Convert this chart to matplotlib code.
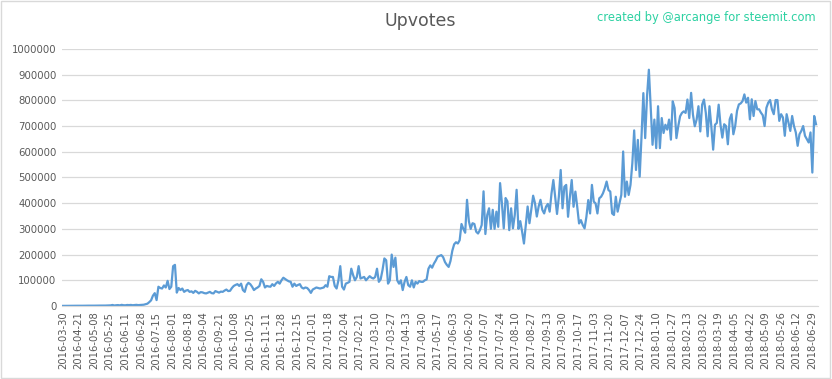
import numpy as np
import matplotlib
matplotlib.use("Agg")
from matplotlib import pyplot as plt
from matplotlib.patches import Rectangle

# daily upvotes, read every 2nd day off the chart (2016-03-30 .. 2018-07-05)
upvotes = [
    500, 600, 700, 600, 800, 700, 900, 800, 1000, 900, 1100, 1000, 1200,
    1100, 1300, 1200, 1400, 1300, 1500, 1400, 1600, 1500, 1800, 1700, 2000, 1900,
    2500, 4000, 2000, 3000, 3500, 2500, 4500, 3000, 2800, 4000, 3500, 4200,
    3000, 3800, 4500, 3500, 4000, 4800, 5000, 7000, 9000,
    15000, 22000, 40000, 50000, 23000, 75000, 70000, 68000, 80000, 72000,
    98000, 66000, 75000, 155000, 160000, 52000, 70000, 62000, 68000,
    55000, 60000, 62000, 55000, 57000, 51000, 59000, 55000, 49000, 54000,
    53000, 50000, 49000, 52000, 55000, 50000, 49000, 58000, 55000, 52000,
    56000, 55000, 60000, 64000, 58000, 59000, 70000, 78000, 82000, 85000,
    78000, 87000, 62000, 55000, 81000, 90000, 85000, 75000, 62000, 68000,
    72000, 78000, 104000, 94000, 72000, 78000, 76000, 75000, 85000, 78000,
    88000, 94000, 87000, 100000, 110000, 105000, 100000, 96000, 94000, 75000,
    87000, 78000, 82000, 85000, 72000, 68000, 72000, 70000, 62000, 51000,
    64000, 68000, 72000, 70000, 68000, 70000, 72000, 81000, 75000, 116000,
    113000, 113000, 78000, 68000, 100000, 155000, 75000, 64000, 87000, 90000,
    94000, 145000, 120000, 100000, 113000, 155000, 107000, 110000, 113000, 100000,
    108000, 116000, 110000, 107000, 113000, 145000, 94000, 104000, 140000, 185000,
    178000, 87000, 100000, 200000, 152000, 188000, 100000, 87000, 100000, 62000,
    94000, 113000, 81000, 75000, 100000, 72000, 94000, 87000, 97000, 94000,
    94000, 100000, 103000, 145000, 158000, 149000, 165000, 177000, 192000, 195000,
    198000, 190000, 171000, 160000, 152000, 175000, 215000, 240000, 248000, 243000,
    256000, 319000, 300000, 285000, 413000, 330000, 300000, 322000, 319000, 289000,
    282000, 295000, 315000, 446000, 280000, 354000, 380000, 300000, 374000, 300000,
    367000, 308000, 478000, 400000, 302000, 420000, 407000, 295000, 380000, 302000,
    354000, 452000, 300000, 330000, 289000, 243000, 315000, 387000, 322000, 374000,
    429000, 400000, 348000, 387000, 413000, 374000, 360000, 386000, 397000, 367000,
    438000, 490000, 425000, 358000, 425000, 529000, 380000, 464000, 471000, 347000,
    425000, 490000, 386000, 445000, 386000, 321000, 334000, 315000, 302000, 347000,
    412000, 360000, 471000, 406000, 399000, 360000, 419000, 425000, 438000, 458000,
    484000, 451000, 445000, 360000, 354000, 425000, 367000, 399000, 432000, 601000,
    425000, 484000, 432000, 471000, 555000, 683000, 529000, 646000, 503000, 659000,
    828000, 653000, 816000, 919000, 777000, 627000, 725000, 614000, 777000, 614000,
    731000, 673000, 705000, 686000, 725000, 647000, 796000, 770000, 653000, 699000,
    738000, 751000, 757000, 751000, 803000, 731000, 829000, 744000, 699000, 725000,
    777000, 679000, 783000, 803000, 751000, 660000, 777000, 699000, 608000, 705000,
    712000, 783000, 705000, 655000, 707000, 700000, 629000, 726000, 746000, 668000,
    700000, 759000, 784000, 788000, 797000, 823000, 791000, 810000, 726000, 804000,
    739000, 797000, 765000, 765000, 752000, 742000, 700000, 771000, 791000, 801000,
    765000, 746000, 801000, 801000, 720000, 746000, 733000, 662000, 746000, 713000,
    681000, 739000, 700000, 675000, 623000, 668000, 681000, 700000, 662000, 649000,
    636000, 675000, 519000, 739000, 707000,
]

date_labels = [
    "2016-03-30", "2016-04-21", "2016-05-08", "2016-05-25", "2016-06-11",
    "2016-06-28", "2016-07-15", "2016-08-01", "2016-08-18", "2016-09-04",
    "2016-09-21", "2016-10-08", "2016-10-25", "2016-11-11", "2016-11-28",
    "2016-12-15", "2017-01-01", "2017-01-18", "2017-02-04", "2017-02-21",
    "2017-03-10", "2017-03-27", "2017-04-13", "2017-04-30", "2017-05-17",
    "2017-06-03", "2017-06-20", "2017-07-07", "2017-07-24", "2017-08-10",
    "2017-08-27", "2017-09-13", "2017-09-30", "2017-10-17", "2017-11-03",
    "2017-11-20", "2017-12-07", "2017-12-24", "2018-01-10", "2018-01-27",
    "2018-02-13", "2018-03-02", "2018-03-19", "2018-04-05", "2018-04-22",
    "2018-05-09", "2018-05-26", "2018-06-12", "2018-06-29",
]

y_ticks = [0, 100000, 200000, 300000, 400000, 500000,
           600000, 700000, 800000, 900000, 1000000]

step = 2          # one value every 2 days
label_every = 17  # one date label every 17 days

grey = "#595959"

fig = plt.figure(figsize=(8.32, 3.79), dpi=100)
fig.patches.append(Rectangle((0.001, 0.002), 0.997, 0.995, transform=fig.transFigure,
                             fill=False, edgecolor="#d9d9d9", linewidth=1))
ax = fig.add_axes([0.0745, 0.1926, 0.9085, 0.6784])

x = np.arange(len(upvotes)) * step
ax.plot(x, upvotes, color="#5b9bd5", linewidth=1.6, solid_joinstyle="round")

ax.set_ylim(0, 1000000)
ax.set_xlim(-1, 822)
ax.set_yticks(y_ticks)
ax.set_yticklabels([str(v) for v in y_ticks], fontsize=7.3, color=grey)
ax.set_xticks(np.arange(len(date_labels)) * label_every)
ax.set_xticklabels(date_labels, rotation=90, fontsize=7.2, color=grey)
ax.tick_params(axis="both", length=0, pad=4)

ax.grid(axis="y", color="#d9d9d9", linewidth=0.9)
ax.set_axisbelow(True)
for side in ("top", "right", "left"):
    ax.spines[side].set_visible(False)
ax.spines["bottom"].set_color("#d9d9d9")

fig.text(0.505, 0.945, "Upvotes", ha="center", va="center", fontsize=12.5, color=grey)
fig.text(0.98, 0.953, "created by @arcange for steemit.com", ha="right", va="center",
         fontsize=8.3, color="#2dd1a2")

fig.savefig("out.png", dpi=100)
